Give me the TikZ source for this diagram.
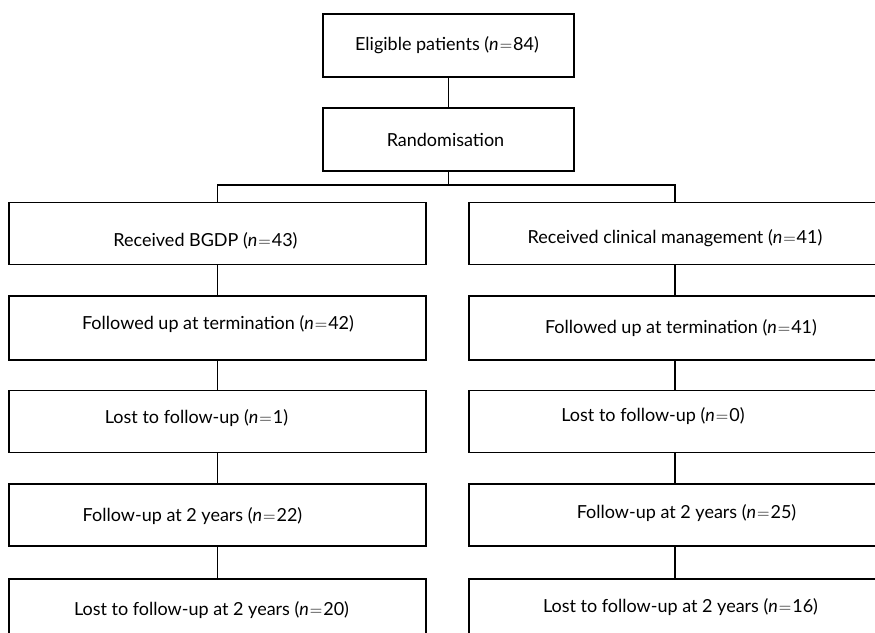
\documentclass[tikz,border=0pt]{standalone}
\usepackage{fontspec}
\setmainfont{Lato}
\newcommand{\nn}[1]{(\textit{n}\kern1pt$=$\kern1pt#1)}
\begin{document}
\begin{tikzpicture}[x=1pt,y=-1pt,
  box/.style={draw, line width=1.6pt, inner sep=0pt, minimum height=62pt},
  lbox/.style={box, minimum width=417pt},
  rbox/.style={box, minimum width=412pt},
  tbox/.style={box, minimum width=251pt, minimum height=63pt},
  lbl/.style={anchor=base, inner sep=0pt, font=\fontsize{18}{21}\selectfont},
  conn/.style={line width=1.6pt}]
\useasboundingbox (0,0) rectangle (875,632);
\clip (0,0) rectangle (875,632);
\fill[white] (0,0) rectangle (875,632);
% boxes
\node[tbox] (elig) at (448.5,45.5) {};
\node[tbox] (rand) at (448.5,139.5) {};
\node[lbox] (L1) at (217.5,233.5) {};
\node[lbox, minimum height=64pt] (L2) at (217.5,328) {};
\node[lbox] (L3) at (217.5,421.5) {};
\node[lbox] (L4) at (217.5,515) {};
\node[lbox] (L5) at (217.5,610) {};
\node[rbox] (R1) at (675,233.5) {};
\node[rbox, minimum height=64pt] (R2) at (675,328) {};
\node[rbox] (R3) at (675,421.5) {};
\node[rbox] (R4) at (675,515) {};
\node[rbox] (R5) at (675,610) {};
% texts
\node[lbl] (telig) at (447,50) {Eligible patients \nn{84}};
\node[lbl] (trand) at (445.5,146) {Randomisation};
\node[lbl] (tL1) at (205.5,246) {Received BGDP \nn{43}};
\node[lbl] (tL2) at (218,329) {Followed up at termination \nn{42}};
\node[lbl] (tL3) at (196.5,423) {Lost to follow-up \nn{1}};
\node[lbl] (tL4) at (192.5,521) {Follow-up at 2 years \nn{22}};
\node[lbl] (tL5) at (211.5,615) {Lost to follow-up at 2 years \nn{20}};
\node[lbl] (tR1) at (675,243) {Received clinical management \nn{41}};
\node[lbl] (tR2) at (681,333) {Followed up at termination \nn{41}};
\node[lbl] (tR3) at (653,421) {Lost to follow-up \nn{0}};
\node[lbl] (tR4) at (686.5,518) {Follow-up at 2 years \nn{25}};
\node[lbl] (tR5) at (680.5,612) {Lost to follow-up at 2 years \nn{16}};
% connectors
\coordinate (br) at (448.5,185);
\draw[conn] (elig) -- (rand);
\draw[conn] (rand.south) -- (br);
\draw[conn] (L1.north) -- (L1.north |- br) -- (R1.north |- br) -- (R1.north);
\draw[conn] (L1) -- (L2);
\draw[conn] (L2) -- (L3);
\draw[conn] (L3) -- (L4);
\draw[conn] (L4) -- (L5);
\draw[conn] (R1) -- (R2);
\draw[conn] (R2) -- (R3);
\draw[conn] (R3) -- (R4);
\draw[conn] (R4) -- (R5);
\end{tikzpicture}
\end{document}
